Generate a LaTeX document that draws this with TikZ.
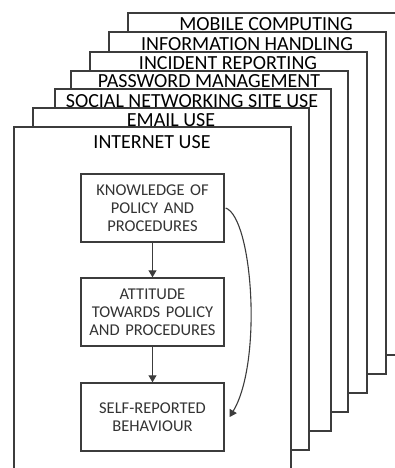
\documentclass[tikz,border=0pt]{standalone}
\usepackage{fontspec}
\setmainfont{Carlito}
\usetikzlibrary{arrows.meta}
\definecolor{edge}{HTML}{3C3C3C}
\tikzset{
  page/.style={draw=edge, line width=1.6pt, fill=white},
  pagetitle/.style={anchor=base, inner sep=0pt, font=\fontsize{20}{22}\selectfont},
  factor/.style={draw=edge, line width=1.4pt, fill=white, minimum width=143pt, minimum height=68pt,
    text width=140pt, align=center, inner sep=0pt, text=black!80, font=\fontsize{16.5}{18}\selectfont},
  link/.style={draw=edge, line width=1.1pt, -{Triangle[length=7pt,width=8pt]}}
}
\begin{document}
\begin{tikzpicture}[x=1pt, y=-1pt]
    \useasboundingbox (0,0) rectangle (395,468);
    \clip (0,0) rectangle (395,468);

    % stacked contexts, back to front
    \draw[page] (128,13) rectangle (404,355);
    \node[pagetitle] (mobile) at (266,31) {MOBILE COMPUTING};
    \draw[page] (109,32) rectangle (386,374);
    \node[pagetitle] (handling) at (247,51) {INFORMATION HANDLING};
    \draw[page] (90,52) rectangle (367,393);
    \node[pagetitle] (incident) at (228,70) {INCIDENT REPORTING};
    \draw[page] (71,71) rectangle (348,412);
    \node[pagetitle] (password) at (209,88) {PASSWORD MANAGEMENT};
    \draw[page] (55,89) rectangle (331,431);
    \node[pagetitle] (social) at (192,107) {SOCIAL NETWORKING SITE USE};
    \draw[page] (33,108) rectangle (309,450);
    \node[pagetitle] (email) at (171,126) {EMAIL USE};
    \draw[page] (14,127) rectangle (291,472);
    \node[pagetitle] (internet) at (152,148) {INTERNET USE};

    % model inside the front context
    \node[factor] (knowledge) at (152.5,208) {KNOWLEDGE OF\\POLICY AND\\PROCEDURES};
    \node[factor] (attitude) at (152.5,312) {ATTITUDE\\TOWARDS POLICY\\AND PROCEDURES};
    \node[factor] (behaviour) at (152.5,417) {SELF-REPORTED\\BEHAVIOUR};

    \draw[link] (knowledge) -- (attitude);
    \draw[link] (attitude) -- (behaviour);
    \draw[link] ([xshift=1pt]knowledge.east) .. controls +(27,10) and +(33,-55) .. ([xshift=5pt]behaviour.east);
\end{tikzpicture}
\end{document}
